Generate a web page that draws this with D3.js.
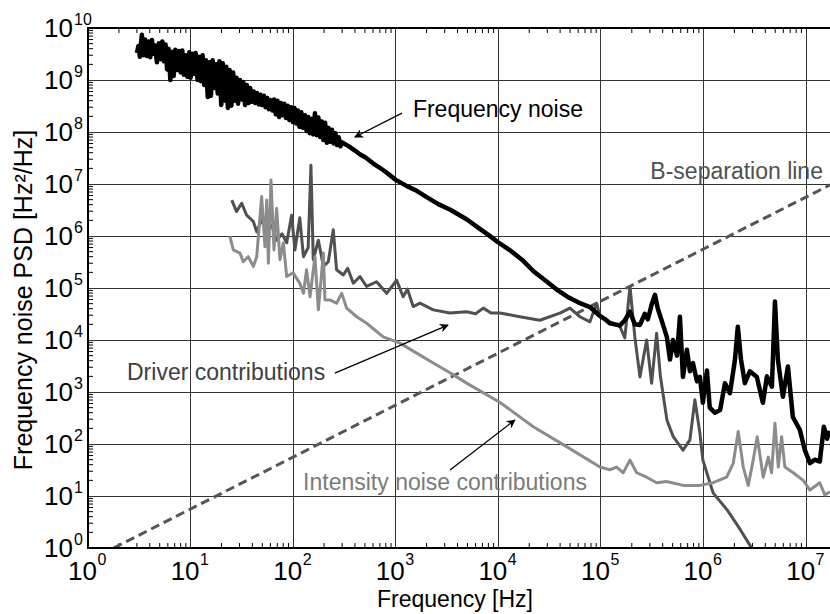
<!DOCTYPE html>
<html>
<head>
<meta charset="utf-8">
<script src="https://cdn.jsdelivr.net/npm/d3@7/dist/d3.min.js"></script>
<style>
  body { margin: 0; background: #fff; }
  text { font-family: "Liberation Sans", Arial, Helvetica, sans-serif; }
</style>
</head>
<body>
<svg id="chart" width="830" height="614"></svg>
<script>
// axis decades (exponents of ten)
const xExponents = [0, 1, 2, 3, 4, 5, 6, 7];
const yExponents = [0, 1, 2, 3, 4, 5, 6, 7, 8, 9, 10];

// [frequency Hz, PSD Hz^2/Hz]
const freqNoise = [
  [3.0, 3.3e9], [3.1, 4.5e9], [3.2, 2.8e9], [3.35, 7.4e9], [3.45, 3.0e9], [3.6, 6.0e9],
  [3.75, 2.9e9], [3.9, 5.5e9], [4.05, 2.75e9], [4.2, 5.9e9], [4.35, 3.2e9], [4.5, 4.6e9],
  [4.7, 2.2e9], [4.9, 5.1e9], [5.1, 2.5e9], [5.3, 5.5e9], [5.5, 2.3e9], [5.7, 4.8e9],
  [5.9, 1.6e9], [6.1, 4.0e9], [6.35, 1.0e9], [6.6, 3.5e9], [6.85, 1.2e9], [7.1, 3.8e9],
  [7.4, 1.55e9], [7.7, 3.6e9], [8.0, 1.4e9], [8.3, 3.7e9], [8.6, 1.26e9], [8.9, 3.0e9],
  [9.3, 1.15e9], [9.7, 3.4e9], [10, 1.1e9], [10.4, 3.2e9], [10.8, 1.3e9], [11.2, 3.3e9],
  [11.7, 1.0e9], [12.1, 2.8e9], [12.6, 9.5e8], [13.1, 3.0e9], [13.6, 8.0e8], [14.1, 2.4e9],
  [14.7, 4.7e8], [15.2, 2.2e9], [15.8, 5.0e8], [16.4, 2.4e9], [17.1, 7.0e8], [17.7, 2.0e9],
  [18.4, 5.5e8], [19.1, 2.3e9], [19.9, 3.3e8], [20.6, 2.1e9], [21.4, 4.0e8], [22.3, 1.8e9],
  [23.1, 2.9e8], [24, 1.55e9], [25, 3.2e8], [26, 1.4e9], [27, 4.0e8], [28, 1.1e9],
  [29, 3.5e8], [30.3, 1.0e9], [31.5, 4.2e8], [32.7, 9.1e8], [34, 3.3e8], [35.3, 8.0e8],
  [36.7, 3.6e8], [38.1, 7.0e8], [39.6, 3.8e8], [41.2, 6.0e8], [42.8, 3.6e8], [44.4, 5.6e8],
  [46.2, 3.4e8], [48, 5.2e8], [49.8, 3.3e8], [51.8, 5.0e8], [53.8, 3.0e8], [55.9, 4.5e8],
  [58, 2.75e8], [60.3, 4.1e8], [62.7, 2.6e8], [65.1, 4.2e8], [67.6, 2.2e8], [70.3, 4.0e8],
  [73, 1.95e8], [75.8, 3.6e8], [78.8, 2.1e8], [81.9, 3.5e8], [85, 1.86e8], [88.4, 3.2e8],
  [91.8, 1.7e8], [95.4, 3.0e8], [99, 1.55e8], [103, 2.9e8], [107, 1.45e8], [111, 2.6e8],
  [115, 1.26e8], [120, 2.4e8], [125, 1.2e8], [130, 2.1e8], [135, 1.05e8], [140, 1.95e8],
  [145, 9.5e7], [151, 1.8e8], [157, 9.0e7], [163, 2.3e8], [169, 8.7e7], [176, 1.9e8],
  [183, 8.0e7], [190, 1.6e8], [197, 7.0e7], [205, 1.5e8], [213, 6.2e7], [221, 1.2e8],
  [230, 6.5e7], [239, 1.1e8], [248, 6.0e7], [258, 9.5e7], [268, 5.6e7], [278, 7.9e7],
  [289, 5.3e7], [300, 6.3e7], [350, 5.3e7], [400, 4.4e7], [450, 3.7e7], [500, 3.3e7],
  [600, 2.5e7], [700, 2.05e7], [800, 1.7e7], [1000, 1.2e7], [1300, 9.0e6], [1600, 7.4e6],
  [2000, 5.6e6], [2600, 4.1e6], [3400, 3.2e6], [4900, 2.1e6], [6500, 1.4e6], [8000, 1.05e6],
  [1.0e4, 7.5e5], [1.3e4, 5.3e5], [1.7e4, 3.5e5], [2.2e4, 2.1e5], [3.0e4, 1.3e5],
  [3.8e4, 9.0e4], [4.7e4, 6.8e4], [6.0e4, 5.3e4], [7.8e4, 4.3e4], [9.8e4, 2.9e4],
  [1.1e5, 2.5e4], [1.22e5, 2.1e4], [1.37e5, 2.0e4], [1.53e5, 1.9e4], [1.71e5, 2.4e4],
  [1.92e5, 3.5e4], [2.14e5, 2.0e4], [2.4e5, 1.95e4], [2.68e5, 3.2e4], [2.87e5, 2.5e4],
  [3.14e5, 5.0e4], [3.36e5, 7.4e4], [3.59e5, 4.0e4], [4.02e5, 2.0e4], [4.4e5, 1.12e4],
  [4.71e5, 4.2e3], [5.04e5, 1.0e4], [5.51e5, 5.0e3], [5.89e5, 2.8e4], [6.3e5, 1.95e3],
  [6.89e5, 6.5e3], [7.37e5, 2.5e3], [7.89e5, 3.6e3], [8.63e5, 1.6e3], [9.22e5, 1.95e3],
  [9.86e5, 620], [1.08e6, 2.6e3], [1.15e6, 500], [1.29e6, 400], [1.45e6, 450],
  [1.62e6, 1.48e3], [1.81e6, 950], [2.02e6, 4.0e3], [2.16e6, 1.8e4], [2.32e6, 4.2e3],
  [2.53e6, 1.48e3], [2.83e6, 2.5e3], [3.31e6, 1.95e3], [3.79e6, 620], [4.15e6, 2.0e3],
  [4.64e6, 1.26e3], [4.97e6, 5.5e4], [5.31e6, 4.2e3], [5.94e6, 810], [6.65e6, 3.1e3],
  [7.43e6, 330], [8.7e6, 186], [9.73e6, 76], [1.09e7, 43], [1.22e7, 50], [1.36e7, 46],
  [1.49e7, 214], [1.6e7, 126], [1.71e7, 178]
];

const driverContrib = [
  [25.2, 4.9e6], [28.1, 2.95e6], [31.5, 4.27e6], [35.2, 2.51e6], [40.9, 1.9e6], [44.1, 1.2e6],
  [49.3, 2.04e6], [55.2, 1.32e6], [62, 1.6e6], [69, 8.3e5], [78, 1.1e6], [86.5, 7.4e5],
  [96.6, 2.5e6], [104, 5.4e5], [116, 2.24e6], [126, 4.0e5], [140, 6.0e5], [149, 2.3e7],
  [157, 3.5e5], [176, 8.3e5], [197, 2.6e5], [220, 3.2e5], [246, 1.32e6], [265, 2.24e5],
  [308, 1.78e5], [340, 2.4e5], [386, 1.23e5], [448, 1.66e5], [520, 1.07e5], [650, 1.32e5],
  [815, 7.9e4], [1020, 1.41e5], [1180, 6.8e4], [1300, 9.5e4], [1480, 4.4e4], [1720, 5.1e4],
  [2320, 3.8e4], [3380, 3.3e4], [4910, 3.5e4], [6000, 3.2e4], [7130, 4.1e4], [8500, 3.3e4],
  [1.04e4, 3.3e4], [1.62e4, 2.8e4], [2.54e4, 2.4e4], [3.98e4, 3.3e4], [4.99e4, 4.1e4],
  [6.24e4, 2.8e4], [7.81e4, 2.24e4], [9.08e4, 5.1e4], [9.78e4, 2.8e4], [1.22e5, 2.24e4],
  [1.53e5, 1.82e4], [1.71e5, 1.1e4], [1.92e5, 1.07e5], [2.14e5, 1.15e4], [2.4e5, 1.95e3],
  [2.79e5, 1.0e4], [3.12e5, 1.48e3], [3.49e5, 1.35e4], [3.8e5, 2.0e3], [4.4e5, 288],
  [5.07e5, 138], [6.31e5, 76], [7.37e5, 120], [8.24e5, 708], [9.22e5, 162], [9.86e5, 49],
  [1.24e6, 11.5], [1.7e6, 5.4], [2.3e6, 2.2], [2.9e6, 1.05], [3.3e6, 0.7]
];

const intensityContrib = [
  [24.2, 9.8e5], [26.1, 5.4e5], [30.3, 4.7e5], [32.6, 3.2e5], [36.5, 4.0e5], [40.9, 2.6e5],
  [44.1, 4.0e5], [49.3, 5.75e6], [53.1, 6.2e5], [55.2, 4.9e6], [57.3, 3.0e5], [60.8, 1.2e7],
  [65, 5.4e5], [69, 3.4e6], [74.3, 3.5e5], [80.2, 7.4e5], [86.5, 1.66e5], [100, 1.95e5],
  [116, 1.23e5], [126, 7.9e4], [135, 2.24e5], [146, 6.8e4], [163, 4.0e5], [176, 3.8e4],
  [197, 4.7e5], [204, 5.9e4], [228, 5.9e4], [265, 5.1e4], [297, 7.9e4], [332, 4.1e4],
  [416, 2.8e4], [520, 2.1e4], [755, 1.15e4], [1100, 8.7e3], [1600, 5.6e3], [2320, 3.6e3],
  [3380, 2.34e3], [4910, 1.48e3], [1.04e4, 630], [2.19e4, 214], [4.62e4, 89], [9.78e4, 36],
  [1.22e5, 32], [1.42e5, 36], [1.65e5, 28], [1.92e5, 49], [2.23e5, 28], [2.79e5, 23],
  [3.49e5, 18], [4.37e5, 19], [6.35e5, 16], [9.22e5, 16], [1.24e6, 18], [1.68e6, 23],
  [1.95e6, 43], [2.18e6, 174], [2.44e6, 36], [2.73e6, 16], [3.05e6, 49], [3.34e6, 138],
  [3.82e6, 23], [4.28e6, 56], [4.61e6, 28], [4.97e6, 251], [5.36e6, 36], [5.77e6, 138],
  [6.21e6, 36], [7.49e6, 28], [9.37e6, 20], [1.09e7, 13], [1.36e7, 18], [1.52e7, 10.5],
  [1.71e7, 12]
];

const bSeparation = [[1.78, 1], [1.71e7, 9.6e6]];

const svg = d3.select("#chart");
const plotLeft = 88, plotRight = 830, plotTop = 28, plotBottom = 548;

const x = d3.scaleLog().domain([1, 1.71e7]).range([plotLeft, plotRight]);
const y = d3.scaleLog().domain([1, 1e10]).range([plotBottom, plotTop]);

const defs = svg.append("defs");
defs.append("clipPath").attr("id", "plotClip")
  .append("rect").attr("x", plotLeft).attr("y", plotTop)
  .attr("width", plotRight - plotLeft).attr("height", plotBottom - plotTop);

defs.append("marker").attr("id", "arrowHead")
  .attr("viewBox", "0 0 10 10").attr("refX", 9).attr("refY", 5)
  .attr("markerWidth", 11).attr("markerHeight", 9).attr("markerUnits", "userSpaceOnUse")
  .attr("orient", "auto")
  .append("path").attr("d", "M0,0 L10,5 L0,10 L3,5 Z").attr("fill", "#000");

// grid
const grid = svg.append("g").attr("stroke", "#333").attr("stroke-width", 1)
  .attr("shape-rendering", "crispEdges");
xExponents.slice(1).forEach(e => {
  grid.append("line").attr("x1", x(10 ** e)).attr("x2", x(10 ** e))
    .attr("y1", plotTop).attr("y2", plotBottom);
});
yExponents.slice(1, -1).forEach(e => {
  grid.append("line").attr("x1", plotLeft).attr("x2", plotRight)
    .attr("y1", y(10 ** e)).attr("y2", y(10 ** e));
});

// minor ticks
const minorX = [], minorY = [];
xExponents.forEach(e => { for (let k = 2; k <= 9; k++) if (k * 10 ** e <= 1.71e7) minorX.push(k * 10 ** e); });
yExponents.slice(0, -1).forEach(e => { for (let k = 2; k <= 9; k++) minorY.push(k * 10 ** e); });

const ticks = svg.append("g").attr("stroke", "#000").attr("stroke-width", 1);
minorX.forEach(v => {
  ticks.append("line").attr("x1", x(v)).attr("x2", x(v)).attr("y1", plotBottom).attr("y2", plotBottom - 5);
  ticks.append("line").attr("x1", x(v)).attr("x2", x(v)).attr("y1", plotTop).attr("y2", plotTop + 5);
});
minorY.forEach(v => {
  ticks.append("line").attr("x1", plotLeft).attr("x2", plotLeft + 5).attr("y1", y(v)).attr("y2", y(v));
});

// curves
const line = d3.line().x(d => x(d[0])).y(d => y(d[1]));
const curves = svg.append("g").attr("clip-path", "url(#plotClip)").attr("fill", "none")
  .attr("stroke-linejoin", "round");

curves.append("path").datum(bSeparation).attr("d", line)
  .attr("stroke", "#555").attr("stroke-width", 3).attr("stroke-dasharray", "9,5");
curves.append("path").datum(driverContrib).attr("d", line)
  .attr("stroke", "#505050").attr("stroke-width", 3);
curves.append("path").datum(intensityContrib).attr("d", line)
  .attr("stroke", "#8c8c8c").attr("stroke-width", 3);
curves.append("path").datum(freqNoise).attr("d", line)
  .attr("stroke", "#000").attr("stroke-width", 4.5);

// frame
svg.append("path")
  .attr("d", `M${plotRight},${plotTop} H${plotLeft} V${plotBottom} H${plotRight}`)
  .attr("fill", "none").attr("stroke", "#000").attr("stroke-width", 2);

// tick labels
xExponents.forEach(e => {
  const px = x(10 ** e);
  svg.append("text").attr("x", px + 9).attr("y", 580).attr("text-anchor", "end")
    .attr("font-size", 26).text("10");
  svg.append("text").attr("x", px + 9.5).attr("y", 565)
    .attr("font-size", 16).text(e);
});
yExponents.forEach(e => {
  const py = y(10 ** e);
  svg.append("text").attr("x", 73).attr("y", py + 9).attr("text-anchor", "end")
    .attr("font-size", 26).text("10");
  svg.append("text").attr("x", 74).attr("y", py - 3)
    .attr("font-size", 16).text(e);
});

// axis titles
svg.append("text").attr("x", 455).attr("y", 607).attr("text-anchor", "middle")
  .attr("font-size", 23).text("Frequency [Hz]");
svg.append("text").attr("transform", "translate(32,300) rotate(-90)")
  .attr("text-anchor", "middle").attr("font-size", 25).text("Frequency noise PSD [Hz²/Hz]");

// annotations (anchored in data coordinates)
const notes = [
  { text: "Frequency noise", at: [1470, 1.94e8], anchor: "start", color: "#000",
    from: [1150, 2.3e8], to: [400, 8.0e7] },
  { text: "Driver contributions", at: [2.4, 1.7e3], anchor: "start", color: "#404040",
    from: [255, 2.3e3], to: [3230, 1.94e4] },
  { text: "Intensity noise contributions", at: [125, 13], anchor: "start", color: "#7a7a7a",
    from: [3380, 31.6], to: [1.45e4, 290] },
  { text: "B-separation line", at: [1.46e7, 1.26e7], anchor: "end", color: "#505050" }
];
notes.forEach(n => {
  svg.append("text").attr("x", x(n.at[0])).attr("y", y(n.at[1]))
    .attr("text-anchor", n.anchor).attr("font-size", 23).attr("fill", n.color).text(n.text);
  if (n.from) {
    svg.append("line")
      .attr("x1", x(n.from[0])).attr("y1", y(n.from[1]))
      .attr("x2", x(n.to[0])).attr("y2", y(n.to[1]))
      .attr("stroke", "#000").attr("stroke-width", 1.3)
      .attr("marker-end", "url(#arrowHead)");
  }
});
</script>
</body>
</html>
